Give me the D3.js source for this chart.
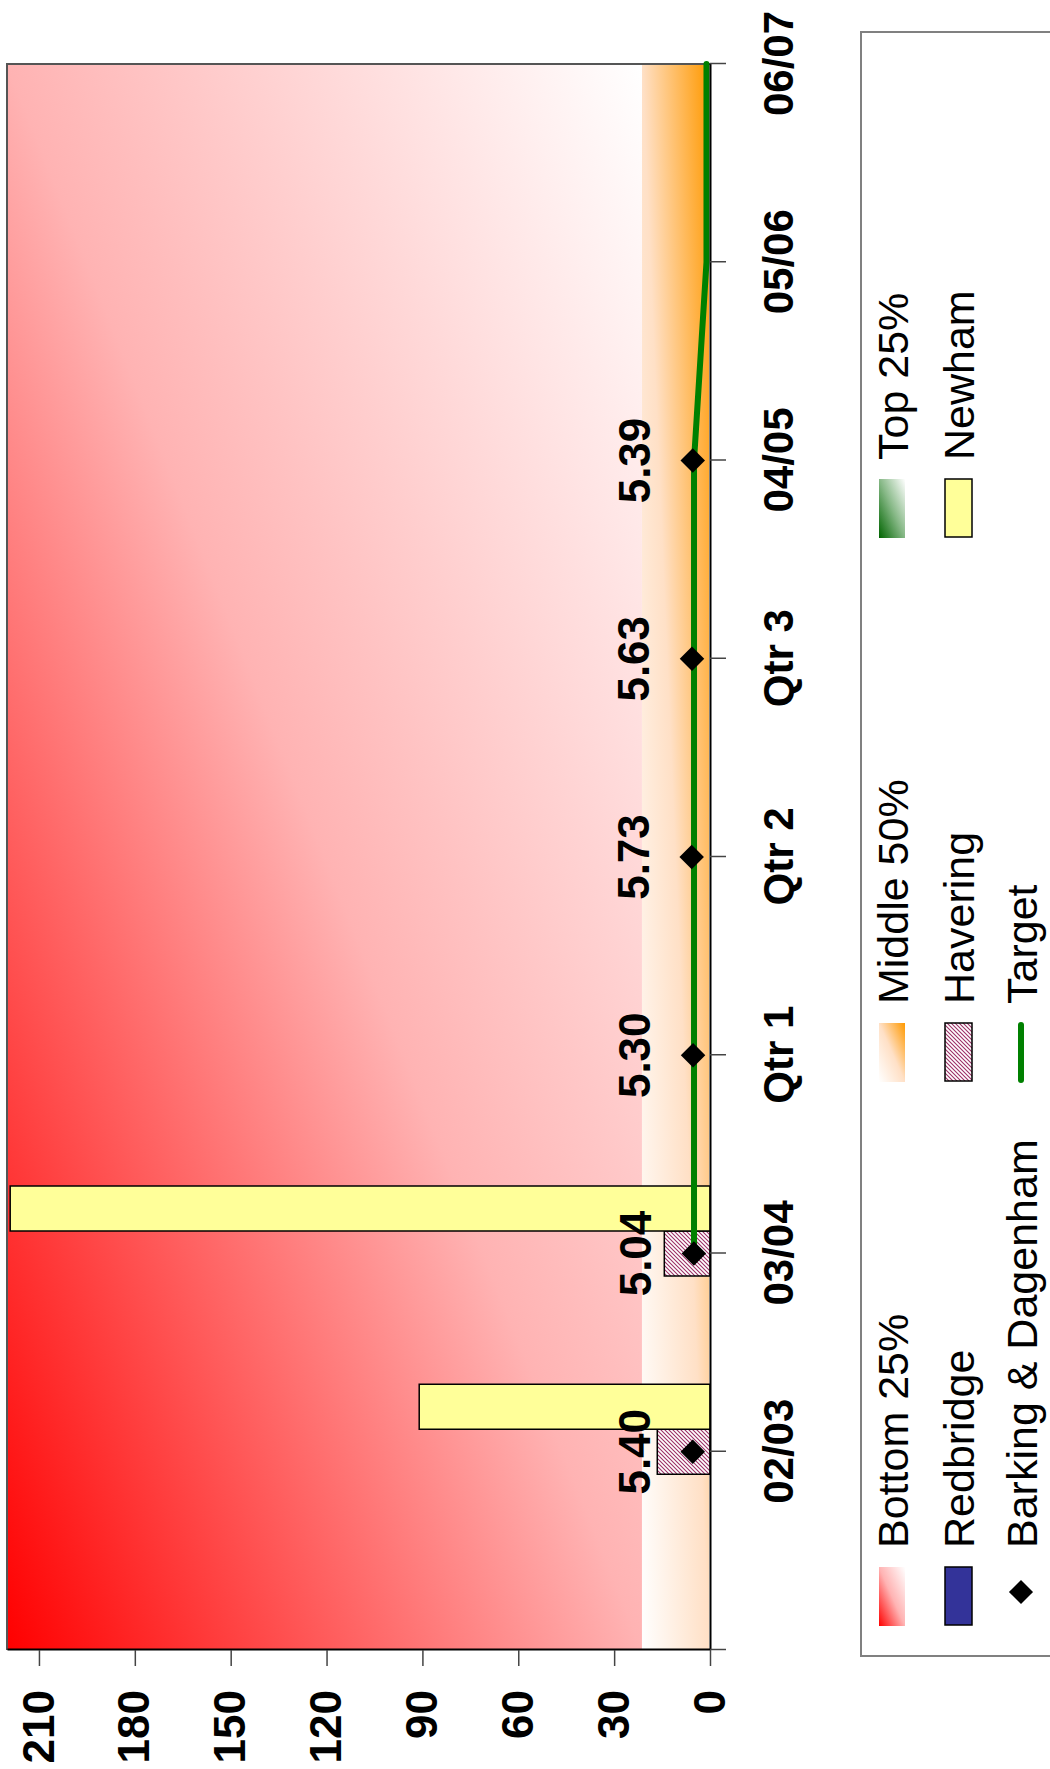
<!DOCTYPE html>
<html>
<head>
<meta charset="utf-8">
<script src="https://cdn.jsdelivr.net/npm/d3@7/dist/d3.min.js"></script>
<style>
  body { margin: 0; background: #fff; }
  svg { display: block; font-family: 'Liberation Sans', Arial, sans-serif; }
</style>
</head>
<body>
<div id="app"></div>
<script>
const categories = ['', '02/03', '03/04', 'Qtr 1', 'Qtr 2', 'Qtr 3', '04/05', '05/06', '06/07'];
const barSeries = ['Redbridge', 'Havering', 'Newham'];
const redbridge = [null, null, null, null, null, null, null, null, null];
const havering = [null, 16.5, 14.3, null, null, null, null, null, null];
const newham = [null, 91, 219, null, null, null, null, null, null];
const barking = [null, 5.40, 5.04, 5.30, 5.73, 5.63, 5.39, null, null];
const target = [null, null, 5.0, 5.0, 5.0, 5.0, 5.0, 1.1, 1.1];
const bandNames = ['Top 25%', 'Middle 50%', 'Bottom 25%'];
const bandEdges = [0, 0.3, 21.3, 220];
const valueTicks = [0, 30, 60, 90, 120, 150, 180, 210];
const legendNames = ['Bottom 25%', 'Middle 50%', 'Top 25%', 'Redbridge', 'Havering', 'Newham', 'Barking & Dagenham', 'Target'];

const width = 1050;
const height = 1769;
const plot = { left: 119, right: 1705, top: 7, bottom: 710 };

const svg = d3.select('#app').append('svg')
  .attr('width', width)
  .attr('height', height);

const defs = svg.append('defs');

const gradient = (id, stops) => {
  const g = defs.append('linearGradient')
    .attr('id', id)
    .attr('x1', 0).attr('y1', 0)
    .attr('x2', 1).attr('y2', 1);
  stops.forEach(([o, c]) => g.append('stop').attr('offset', o).attr('stop-color', c));
};

gradient('g-bottom', [[0, '#ff0000'], [0.5, '#ffb3b3'], [1, '#ffffff']]);
gradient('g-middle', [[0, '#ffffff'], [0.5, '#ffe0c6'], [1, '#ff9900']]);
gradient('g-top', [[0, '#006400'], [0.5, '#86b886'], [1, '#ffffff']]);

const hatch = defs.append('pattern')
  .attr('id', 'hatch')
  .attr('patternUnits', 'userSpaceOnUse')
  .attr('width', 4).attr('height', 4);
hatch.append('rect').attr('width', 4).attr('height', 4).attr('fill', '#fff');
hatch.append('path')
  .attr('d', 'M-1,1 l2,-2 M0,4 l4,-4 M3,5 l2,-2')
  .attr('stroke', '#9c2f66')
  .attr('stroke-width', 1.1);

const bandFill = { 'Top 25%': 'url(#g-top)', 'Middle 50%': 'url(#g-middle)', 'Bottom 25%': 'url(#g-bottom)' };

// chart is laid out landscape and turned a quarter to the left
const g = svg.append('g').attr('transform', `translate(0,${height}) rotate(-90)`);

const x = d3.scalePoint().domain(categories).range([plot.left, plot.right]);
const y = d3.scaleLinear().domain([0, 220]).range([plot.bottom, plot.top]);
const bar = d3.scaleBand().domain(barSeries).range([-67.5, 67.5]);

g.selectAll('.band')
  .data(bandNames.slice(1))
  .enter().append('rect')
  .attr('x', plot.left)
  .attr('width', plot.right - plot.left)
  .attr('y', (d, i) => y(bandEdges[i + 2]))
  .attr('height', (d, i) => y(bandEdges[i + 1]) - y(bandEdges[i + 2]))
  .attr('fill', d => bandFill[d]);

g.append('path')
  .attr('d', `M${plot.left},${plot.top}H${plot.right}V${plot.bottom}`)
  .attr('fill', 'none')
  .attr('stroke', '#555')
  .attr('stroke-width', 2);

const barData = [];
[redbridge, havering, newham].forEach((values, s) => {
  values.forEach((v, i) => {
    if (v != null) barData.push({ series: barSeries[s], cat: categories[i], value: v });
  });
});

g.selectAll('.bar')
  .data(barData)
  .enter().append('rect')
  .attr('x', d => x(d.cat) + bar(d.series))
  .attr('width', bar.bandwidth())
  .attr('y', d => y(d.value))
  .attr('height', d => y(0) - y(d.value))
  .attr('fill', d => d.series === 'Newham' ? '#ffff99' : d.series === 'Havering' ? 'url(#hatch)' : '#333399')
  .attr('stroke', '#000')
  .attr('stroke-width', 1.5);

const targetLine = d3.line()
  .defined(d => d[1] != null)
  .x(d => x(d[0]))
  .y(d => y(d[1]));

g.append('path')
  .datum(categories.map((c, i) => [c, target[i]]))
  .attr('d', targetLine)
  .attr('fill', 'none')
  .attr('stroke', '#008000')
  .attr('stroke-width', 6)
  .attr('stroke-linecap', 'round')
  .attr('stroke-linejoin', 'round');

const diamond = d3.symbol(d3.symbolSquare, 300);
const points = categories.map((c, i) => ({ cat: c, value: barking[i] })).filter(d => d.value != null);

g.selectAll('.marker')
  .data(points)
  .enter().append('path')
  .attr('d', diamond)
  .attr('transform', d => `translate(${x(d.cat)},${y(d.value)}) rotate(45)`)
  .attr('fill', '#000');

g.selectAll('.label')
  .data(points)
  .enter().append('text')
  .attr('x', d => x(d.cat))
  .attr('y', d => y(d.value) - 43)
  .attr('text-anchor', 'middle')
  .attr('font-size', 44)
  .attr('font-weight', 'bold')
  .text(d => d.value.toFixed(2));

const yAxis = g.append('g')
  .attr('transform', `translate(${plot.left},0)`)
  .call(d3.axisLeft(y).tickValues(valueTicks).tickSize(16).tickSizeOuter(0).tickPadding(24));

const xAxis = g.append('g')
  .attr('transform', `translate(0,${plot.bottom})`)
  .call(d3.axisBottom(x).tickSize(16).tickSizeOuter(0));

[yAxis, xAxis].forEach(a => {
  a.select('.domain').attr('stroke', '#000').attr('stroke-width', 2);
  a.selectAll('.tick line').attr('stroke', '#444').attr('stroke-width', 1.5);
  a.selectAll('text')
    .attr('fill', '#000')
    .attr('font-family', "'Liberation Sans', Arial, sans-serif")
    .attr('font-weight', 'bold');
});

yAxis.selectAll('text').attr('font-size', 44);
xAxis.selectAll('text').attr('font-size', 42).attr('y', 83).attr('dy', 0);

const legend = g.append('g');

legend.append('rect')
  .attr('x', 113)
  .attr('y', 861)
  .attr('width', 1624)
  .attr('height', 240)
  .attr('fill', '#fff')
  .attr('stroke', '#808080')
  .attr('stroke-width', 2);

const colX = [143, 687, 1231];
const rowY = [892, 958, 1021];

const items = legend.selectAll('.item')
  .data(legendNames)
  .enter().append('g')
  .attr('transform', (d, i) => `translate(${colX[i % 3]},${rowY[Math.floor(i / 3)]})`);

items.each(function (d) {
  const item = d3.select(this);
  if (bandNames.includes(d)) {
    item.append('rect').attr('x', 0).attr('y', -13).attr('width', 59).attr('height', 26).attr('fill', bandFill[d]);
  } else if (d === 'Redbridge' || d === 'Havering' || d === 'Newham') {
    item.append('rect').attr('x', 1).attr('y', -13).attr('width', 58).attr('height', 27)
      .attr('fill', d === 'Newham' ? '#ffff99' : d === 'Havering' ? 'url(#hatch)' : '#333399')
      .attr('stroke', '#000').attr('stroke-width', 1.5);
  } else if (d === 'Target') {
    item.append('line').attr('x1', 2).attr('x2', 57).attr('y1', 0).attr('y2', 0)
      .attr('stroke', '#008000').attr('stroke-width', 6).attr('stroke-linecap', 'round');
  } else {
    item.append('path').attr('d', d3.symbol(d3.symbolSquare, 290)).attr('transform', 'translate(34,0) rotate(45)');
  }
  item.append('text')
    .attr('x', 78)
    .attr('y', 16)
    .attr('font-size', 43)
    .text(d);
});
</script>
</body>
</html>
